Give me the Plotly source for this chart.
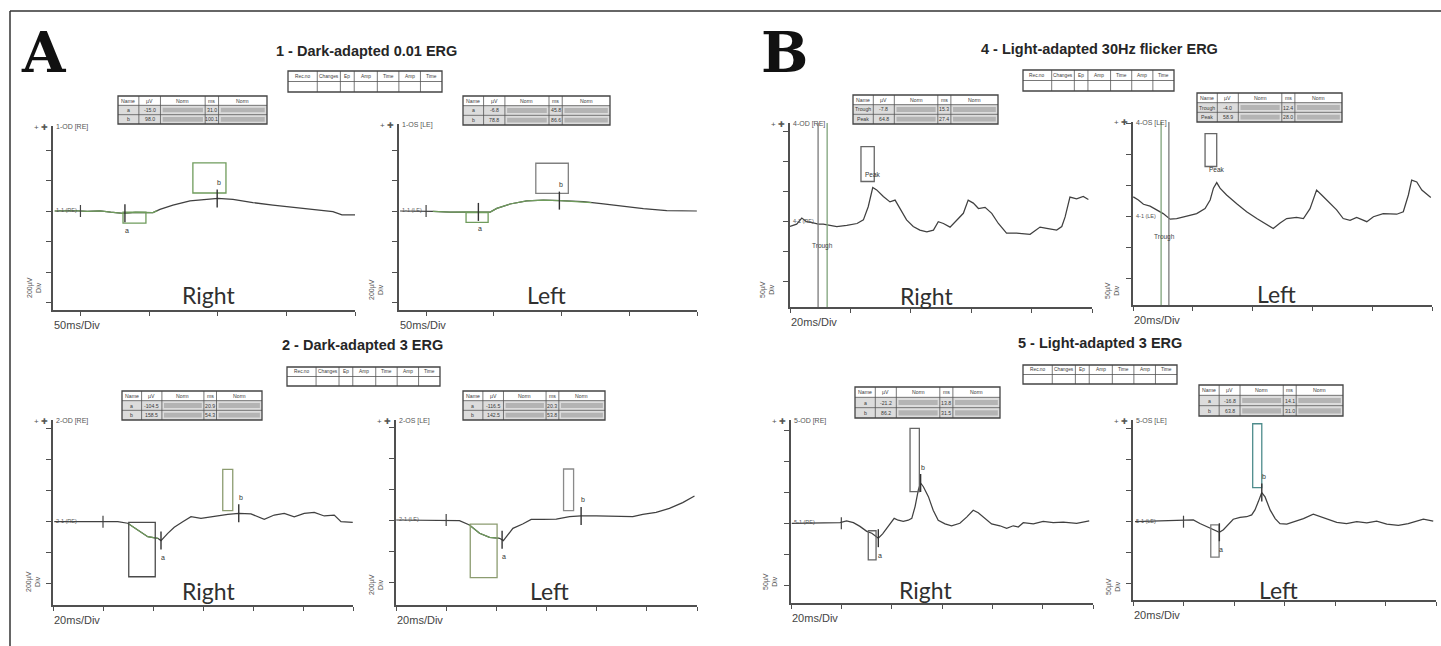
import numpy as np
import plotly.graph_objects as go

W, H = 1441, 646

# ---------------- data: time (ms) and amplitude (µV) ----------------
# Panel A, 1 - Dark-adapted 0.01 ERG
a1_t = [-18.6, -5, 5, 14.2, 22, 31, 40, 52.8, 57.9, 67.4, 79.8, 92.1, 100.1, 111.1, 125.6, 140.2, 154.8, 172.3, 183.9, 190.5, 200]
a1_v = [0, 3, -3, 0, -8, -15, -9, -11, 11, 39, 66, 77, 83, 77, 55, 39, 24, 7, -4, -26, -26]
a2_t = [-19.2, -5, 5, 17.7, 30, 47.3, 52.2, 62, 74.3, 86.6, 98.9, 116.1, 130.9, 145.7, 160.4, 177.7, 199.9]
a2_v = [0, 0, -3, -7, -5, -7, 17, 46, 66, 72, 68, 61, 46, 28, 15, 2, 0]
# Panel A, 2 - Dark-adapted 3 ERG
a3_t = [-19.5, 5.9, 9.9, 13.9, 17.9, 21.9, 23.2, 25.9, 28.5, 31.9, 35.2, 39.2, 44.5, 49.9, 54.3, 59.2, 64.5, 68.5, 72.5, 76.5, 80.5, 84.5, 88.5, 92.5, 95.2, 99.9]
a3_v = [0, 0, -10, -54, -97, -107, -122, -75, -36, 0, 32, 22, 37, 48, 54, 50, 15, 43, 54, 32, 54, 60, 37, 43, 0, -4]
a4_t = [-19.9, 0, 5.3, 9.3, 13.3, 17.3, 21.3, 22.8, 24.6, 26.6, 30.5, 33.9, 38.5, 43.9, 49.2, 53.8, 59.8, 67.8, 74.4, 78.4, 83.7, 89, 94.3, 99]
a4_v = [0, 0, -4, -32, -86, -112, -118, -133, -97, -54, -26, 4, 4, 6, 22, 26, 26, 22, 22, 37, 49, 75, 112, 155]
# Panel B, 4 - Light-adapted 30Hz flicker ERG
b1_t = [0, 2.2, 3.9, 5.5, 7.7, 9.4, 11, 13.2, 15.5, 18.8, 22.2, 24.3, 25.9, 27.4, 28.7, 30.9, 33.1, 34.8, 36.4, 38.6, 40.8, 43, 45.3, 47.5, 49.1, 50.8, 53, 55.2, 57.4, 59, 60.7, 62.4, 64.6, 66.8, 69, 71.7, 75, 79.5, 82.8, 85, 88.3, 90, 91.1, 92.7, 94.9, 97.1, 98.8]
b1_v = [-8, -4, 6, 0, -2, -4, -4, -6, -8, -6, -3, 3, 25, 57, 53, 42, 33, 36, 22, 3, -8, -14, -17, -14, 0, -3, -9, 3, 14, 36, 31, 22, 24, 14, -3, -19, -19, -21, -9, -11, -14, -8, 8, 41, 38, 42, 37]
b2_t = [0.1, 1.8, 3.5, 5.7, 7.9, 10.1, 12.4, 14.6, 18, 21.3, 24.1, 25.8, 26.9, 28, 29.1, 31.3, 34.7, 38, 41.4, 44.7, 46.9, 49.2, 51.4, 54.7, 57, 59.2, 61.4, 63.1, 65.3, 68.1, 70.3, 72.6, 74.8, 78.2, 80.4, 83.7, 88.2, 90.4, 92.1, 93.2, 94.9, 96.6, 99.6]
b2_v = [32, 27, 20, 17, 11, 5, -4, -3, 1, 5, 13, 27, 46, 55, 46, 35, 21, 8, -3, -12, -19, -10, -3, -1, -3, 13, 43, 35, 24, 11, -3, -6, -1, -8, 0, 5, 4, 8, 35, 59, 56, 43, 31]
# Panel B, 5 - Light-adapted 3 ERG
b3_t = [-19.7, -0.5, 2.1, 4.8, 7.4, 10.1, 12.1, 14.7, 16.4, 17.7, 19.3, 21, 22.6, 24.6, 26.6, 28, 29.3, 30.6, 31.5, 32.6, 34.6, 36.5, 38.5, 41.2, 43.8, 47.1, 49.8, 52.4, 54.4, 57.1, 59.7, 63, 65.7, 68.3, 70.3, 72.3, 76.3, 80.2, 84.2, 88.2, 93.5, 98.5]
b3_v = [0, 1, 4, 1, -5, -13, -16, -24, -17, -10, 0, 8, 5, 3, 5, 8, 27, 54, 65, 59, 43, 21, 5, -1, -4, 0, 10, 21, 17, 8, -1, -4, -8, -4, -6, 1, -1, 3, 1, 2, 0, 4]
b4_t = [-19.2, -1.4, 3.9, 6.5, 9.2, 11.8, 14.2, 15.8, 17.7, 19.7, 22.4, 25, 27, 28.3, 29.6, 31, 32.3, 34.3, 36.3, 38.2, 40.9, 44.2, 47.5, 51.4, 54.1, 57.4, 60.7, 64.6, 68.6, 72.6, 76.5, 80.5, 85.1, 89, 93, 95, 98.9]
b4_v = [0, 2, 3, -3, -8, -13, -17, -13, -4, 4, 7, 8, 11, 19, 32, 47, 40, 19, 5, -3, -4, 0, 5, 12, 8, 3, -1, -3, 0, -2, 1, -4, -6, -3, 2, 4, 1]

# measurement windows (t0, t1, v0, v1) in ms / µV
a1_boxes = [(31, 47.7, -79, -7), (81.9, 106, 118, 315)]
a2_boxes = [(29.5, 45.8, -74, -11), (81, 105, 116, 313)]
a3_boxes = [(10.3, 20.9, -355, -4), (47.9, 51.9, 71, 338)]
a4_boxes = [(9.6, 20.3, -372, -26), (46.8, 50.8, 60, 329)]
b1_boxes = [(23.5, 27.9, 67, 125)]
b2_boxes = [(24.1, 28.0, 81, 134)]
b3_boxes = [(10.7, 13.8, -59, -12), (27.3, 31.0, 51, 153)]
b4_boxes = [(10.8, 14.1, -57, -5), (27.4, 31.0, 55, 158)]

# marker times (ms) for a / b (or Trough / Peak)
a1_marks = [32.4, 99.6]
a2_marks = [38.6, 98.4]
a3_marks = [23.2, 54.3]
a4_marks = [22.3, 53.8]
b1_marks = [10.8, 27.4]
b2_marks = [10.7, 28.0]
b3_marks = [14.7, 31.5]
b4_marks = [14.2, 31.0]
b1_cursors = [9.3, 12.3]
b2_cursors = [9.4, 12.0]

titles = ["1 - Dark-adapted 0.01 ERG", "2 - Dark-adapted 3 ERG",
          "4 - Light-adapted 30Hz flicker ERG", "5 - Light-adapted 3 ERG"]
sides = ["Right", "Left"]
eye_tags = ["OD [RE]", "OS [LE]"]
meas_header = ["Name", "µV", "Norm", "ms", "Norm"]
summary_header = ["Rec.no", "Changes", "Ep", "Amp", "Time", "Amp", "Time"]

# ---------------- layout / style ----------------
AX = "#505050"
TRACE = "#404040"
GREEN = "#6f9c5c"
FONT = "Liberation Sans"


def P(x):
    return x / W


def Q(y):
    return 1 - y / H


panels = [
    dict(t=a1_t, v=a1_v, boxes=a1_boxes, marks=a1_marks, rec=1, side=0, names=["a", "b"],
         g=(53, 355, 126, 310, 211.0, 200 / 30.5), xr=[-20, 200], dx=50, dy=200, div="50ms/Div", unit="200µV",
         green=(-19, 56), boxcol=[GREEN, GREEN], flash=True, table=(118, 267, 96, 124)),
    dict(t=a2_t, v=a2_v, boxes=a2_boxes, marks=a2_marks, rec=1, side=1, names=["a", "b"],
         g=(399, 697, 124, 310, 211.0, 200 / 30.5), xr=[-20, 200], dx=50, dy=200, div="50ms/Div", unit="200µV",
         green=(5, 122), boxcol=[GREEN, "#808080"], flash=True, table=(463, 610, 96, 125)),
    dict(t=a3_t, v=a3_v, boxes=a3_boxes, marks=a3_marks, rec=2, side=0, names=["a", "b"],
         g=(53, 353, 420, 605, 521.7, 200 / 31), xr=[-20, 100], dx=20, dy=200, div="20ms/Div", unit="200µV",
         green=(10, 22), boxcol=["#4a4a4a", "#8c9c70"], flash=True, table=(122, 262, 391, 420)),
    dict(t=a4_t, v=a4_v, boxes=a4_boxes, marks=a4_marks, rec=2, side=1, names=["a", "b"],
         g=(396, 697, 420, 605, 520.0, 200 / 31), xr=[-20, 100], dx=20, dy=200, div="20ms/Div", unit="200µV",
         green=(9, 21), boxcol=["#8c9c70", "#8a8a8a"], flash=True, table=(463, 605, 391, 420)),
    dict(t=b1_t, v=b1_v, boxes=b1_boxes, marks=b1_marks, rec=4, side=0, names=["Trough", "Peak"],
         g=(790, 1092, 123, 307, 221.7, 50 / 30), xr=[0, 100], dx=20, dy=50, div="20ms/Div", unit="50µV",
         green=None, boxcol=["#666666"], flash=False, table=(853, 998, 95, 124), cursors=b1_cursors),
    dict(t=b2_t, v=b2_v, boxes=b2_boxes, marks=b2_marks, rec=4, side=1, names=["Trough", "Peak"],
         g=(1133, 1432, 122, 305, 216.7, 50 / 31), xr=[0, 100], dx=20, dy=50, div="20ms/Div", unit="50µV",
         green=None, boxcol=["#666666"], flash=False, table=(1197, 1342, 93, 122), cursors=b2_cursors),
    dict(t=b3_t, v=b3_v, boxes=b3_boxes, marks=b3_marks, rec=5, side=0, names=["a", "b"],
         g=(791, 1093, 420, 603, 523.3, 50 / 31), xr=[-20, 100], dx=20, dy=50, div="20ms/Div", unit="50µV",
         green=None, boxcol=["#666666", "#666666"], flash=True, table=(855, 1000, 387, 418)),
    dict(t=b4_t, v=b4_v, boxes=b4_boxes, marks=b4_marks, rec=5, side=1, names=["a", "b"],
         g=(1133, 1436, 420, 600, 521.7, 50 / 31), xr=[-20, 100], dx=20, dy=50, div="20ms/Div", unit="50µV",
         green=None, boxcol=["#7a7a7a", "#4e8c8c"], flash=True, table=(1199, 1343, 385, 416)),
]

side_pos = [(208, 295), (546, 295), (208, 591), (549, 591),
            (926, 296), (1276, 294), (925, 590), (1278, 590)]
unit_pos = [(34, 288), (376, 290), (33, 582), (376, 585),
            (767, 290), (1112, 291), (770, 582), (1113, 587)]
title_pos = [(366, 51), (362, 345), (1099, 49), (1100, 343)]
summary_pos = [(288, 442, 71, 92), (287, 440, 367, 386), (1023, 1174, 70, 91), (1023, 1177, 365, 384)]
letter_pos = [("A", 44, 52), ("B", 785, 52)]

fig = go.Figure()
shapes, ann = [], []


def txt(x, y, s, size, color="#333", xanchor="center", yanchor="middle", family=FONT, **kw):
    ann.append(dict(x=P(x), y=Q(y), xref="paper", yref="paper", text=s, showarrow=False,
                    xanchor=xanchor, yanchor=yanchor, font=dict(size=size, color=color, family=family),
                    borderpad=0, **kw))


def table(x0, x1, y0, y1, fracs, rows, fills, size=5.2):
    nrow = len(rows)
    rh = (y1 - y0) / nrow
    for r in range(nrow):
        shapes.append(dict(type="rect", xref="paper", yref="paper", x0=P(x0), x1=P(x1),
                           y0=Q(y0 + (r + 1) * rh), y1=Q(y0 + r * rh), fillcolor=fills[r],
                           line=dict(width=0), layer="below"))
    for r in range(1, nrow):
        shapes.append(dict(type="line", xref="paper", yref="paper", x0=P(x0), x1=P(x1),
                           y0=Q(y0 + r * rh), y1=Q(y0 + r * rh), line=dict(color="#555", width=0.8)))
    for f in fracs[1:-1]:
        xx = x0 + f * (x1 - x0)
        shapes.append(dict(type="line", xref="paper", yref="paper", x0=P(xx), x1=P(xx),
                           y0=Q(y0), y1=Q(y1), line=dict(color="#555", width=0.8)))
    shapes.append(dict(type="rect", xref="paper", yref="paper", x0=P(x0), x1=P(x1), y0=Q(y1), y1=Q(y0),
                       line=dict(color="#444", width=1.3)))
    for r, row in enumerate(rows):
        for c, s in enumerate(row):
            if s:
                cx = x0 + (fracs[c] + fracs[c + 1]) / 2 * (x1 - x0)
                txt(cx, y0 + (r + 0.5) * rh, s, size, color="#3a3a3a")


# frame
shapes.append(dict(type="line", xref="paper", yref="paper", x0=P(10), x1=1, y0=Q(11), y1=Q(11),
                   line=dict(color="#333", width=1.5)))
shapes.append(dict(type="line", xref="paper", yref="paper", x0=P(10), x1=P(10), y0=Q(11), y1=0,
                   line=dict(color="#333", width=1.5)))

layout_axes = {}
for i, p in enumerate(panels):
    n = "" if i == 0 else str(i + 1)
    xa, ya = "x" + n, "y" + n
    x0, x1, top, bot, base, k = p["g"]
    yr = [(base - bot) * k, (base - top) * k]
    layout_axes["xaxis" + n] = dict(domain=[P(x0), P(x1)], range=p["xr"], anchor=ya, showline=True,
                                    linecolor=AX, linewidth=1.5, ticks="outside", ticklen=4, tickwidth=1.2,
                                    tickcolor=AX, tickmode="linear", tick0=0, dtick=p["dx"],
                                    showticklabels=False, showgrid=False, zeroline=False, fixedrange=True)
    layout_axes["yaxis" + n] = dict(domain=[Q(bot), Q(top)], range=yr, anchor=xa, showline=True,
                                    linecolor=AX, linewidth=1.5, ticks="outside", ticklen=5, tickwidth=1.2,
                                    tickcolor=AX, tickmode="linear", tick0=0, dtick=p["dy"],
                                    showticklabels=False, showgrid=False, zeroline=False, fixedrange=True)
    t = np.array(p["t"], float)
    v = np.array(p["v"], float)

    # cursor lines (flicker)
    for j, c in enumerate(p.get("cursors", [])):
        shapes.append(dict(type="line", xref=xa, yref=ya + " domain", x0=c, x1=c, y0=0, y1=1,
                           line=dict(color=["#7a7a7a", "#7fa37a"][j if i == 4 else 1 - j], width=1.3)))

    fig.add_trace(go.Scatter(x=t, y=v, xaxis=xa, yaxis=ya, mode="lines",
                             line=dict(color=TRACE, width=1.25), hoverinfo="skip", showlegend=False))
    if p["green"]:
        g0, g1 = p["green"]
        m = (t > g0) & (t < g1)
        gt = np.concatenate([[g0], t[m], [g1]])
        gv = np.interp(gt, t, v)
        fig.add_trace(go.Scatter(x=gt, y=gv, xaxis=xa, yaxis=ya, mode="lines",
                                 line=dict(color=GREEN, width=1.25), hoverinfo="skip", showlegend=False))

    for (bt0, bt1, bv0, bv1), col in zip(p["boxes"], p["boxcol"]):
        shapes.append(dict(type="rect", xref=xa, yref=ya, x0=bt0, x1=bt1, y0=bv0, y1=bv1,
                           line=dict(color=col, width=1.3)))

    # flash marker
    if p["flash"]:
        shapes.append(dict(type="line", xref=xa, yref=ya, x0=0, x1=0, y0=-6 * k, y1=6 * k,
                           line=dict(color="#444", width=1.2)))

    # a / b markers
    for j, tm in enumerate(p["marks"]):
        val = float(np.interp(tm, t, v))
        name = p["names"][j]
        if name in ("a", "b"):
            shapes.append(dict(type="line", xref=xa, yref=ya, x0=tm, x1=tm, y0=val - 9 * k, y1=val + 9 * k,
                               line=dict(color="#333", width=1.4)))
            ann.append(dict(x=tm, y=val, xref=xa, yref=ya, text=name, showarrow=False,
                            yshift=(-17 if name == "a" else 16), xshift=2,
                            font=dict(size=7, color="#333", family=FONT)))
        elif name == "Trough":
            ann.append(dict(x=tm, y=val, xref=xa, yref=ya, text=name, showarrow=False, yshift=-22,
                            font=dict(size=6.5, color="#444", family=FONT)))
        else:
            ann.append(dict(x=tm, y=val, xref=xa, yref=ya, text=name, showarrow=False, yshift=13,
                            font=dict(size=6.5, color="#333", family=FONT)))

    # texts around the axes
    sx, sy = side_pos[i]
    txt(sx, sy, sides[p["side"]], 23, color="#303030", family="Lato")
    txt(x0 + 0, bot + 15, p["div"], 11, color="#444", xanchor="left")
    ux, uy = unit_pos[i]
    txt(ux, uy, p["unit"] + "<br>Div", 7, color="#555", textangle=-90)
    txt(x0 - 4, top + 1, "+ ✚", 8, color="#555", xanchor="right")
    txt(x0 + 2, top + 1, "%d-%s" % (p["rec"], eye_tags[p["side"]]), 7, color="#555", xanchor="left")
    txt(x0 + 2, base - 1, "%d-1 (%s)" % (p["rec"], ["RE", "LE"][p["side"]]), 5.5, color="#555", xanchor="left")

    # measurement table built from the waveform
    rows = [meas_header]
    a_val = None
    for j, name in enumerate(p["names"]):
        bt0, bt1 = p["boxes"][min(j, len(p["boxes"]) - 1)][:2]
        if name in ("a", "Trough"):
            if name == "Trough":
                bt0, bt1 = p["cursors"][0] - 3, p["cursors"][1] + 3
            tt = np.linspace(bt0, bt1, 300)
            vv = np.interp(tt, t, v)
            idx = int(np.argmin(vv))
            a_val = vv[idx]
            rows.append([name, "%.1f" % vv[idx], "", "%.1f" % tt[idx], ""])
        else:
            tt = np.linspace(bt0 - 3, bt1 + 3, 300)
            vv = np.interp(tt, t, v)
            idx = int(np.argmax(vv))
            rows.append([name, "%.1f" % (vv[idx] - (a_val or 0)), "", "%.1f" % tt[idx], ""])
    tx0, tx1, ty0, ty1 = p["table"]
    table(tx0, tx1, ty0, ty1, [0, .14, .285, .585, .675, 1], rows, ["#ffffff", "#dcdcdc", "#dcdcdc"])
    # blurred normative ranges shown as grey bars
    rh = (ty1 - ty0) / 3
    for r in (1, 2):
        for (f0, f1) in ((.30, .57), (.69, .985)):
            shapes.append(dict(type="rect", xref="paper", yref="paper",
                               x0=P(tx0 + f0 * (tx1 - tx0)), x1=P(tx0 + f1 * (tx1 - tx0)),
                               y0=Q(ty0 + (r + 0.75) * rh), y1=Q(ty0 + (r + 0.25) * rh),
                               fillcolor="#9a9a9a", line=dict(width=0), opacity=0.6))

# titles, summary tables, panel letters
for s, (x, y) in zip(titles, title_pos):
    txt(x, y, "<b>%s</b>" % s, 14.5, color="#262626")
for (x0, x1, y0, y1) in summary_pos:
    table(x0, x1, y0, y1, [0, .19, .34, .43, .58, .72, .86, 1],
          [summary_header, [""] * 7], ["#ffffff", "#ffffff"], size=4.8)
for s, x, y in letter_pos:
    txt(x, y, "<b>%s</b>" % s, 56, color="#111", family="DejaVu Serif")

fig.update_layout(width=W, height=H, margin=dict(l=0, r=0, t=0, b=0), paper_bgcolor="white",
                  plot_bgcolor="rgba(0,0,0,0)", showlegend=False, shapes=shapes, annotations=ann,
                  **layout_axes)
fig.write_html("out.html", config={"displayModeBar": False})

# remove the browser's default page margin so the figure sits at (0, 0)
with open("out.html", encoding="utf-8") as f:
    html = f.read()
html = html.replace("<head>", "<head><style>html,body{margin:0;padding:0;overflow:hidden;}</style>", 1)
with open("out.html", "w", encoding="utf-8") as f:
    f.write(html)
